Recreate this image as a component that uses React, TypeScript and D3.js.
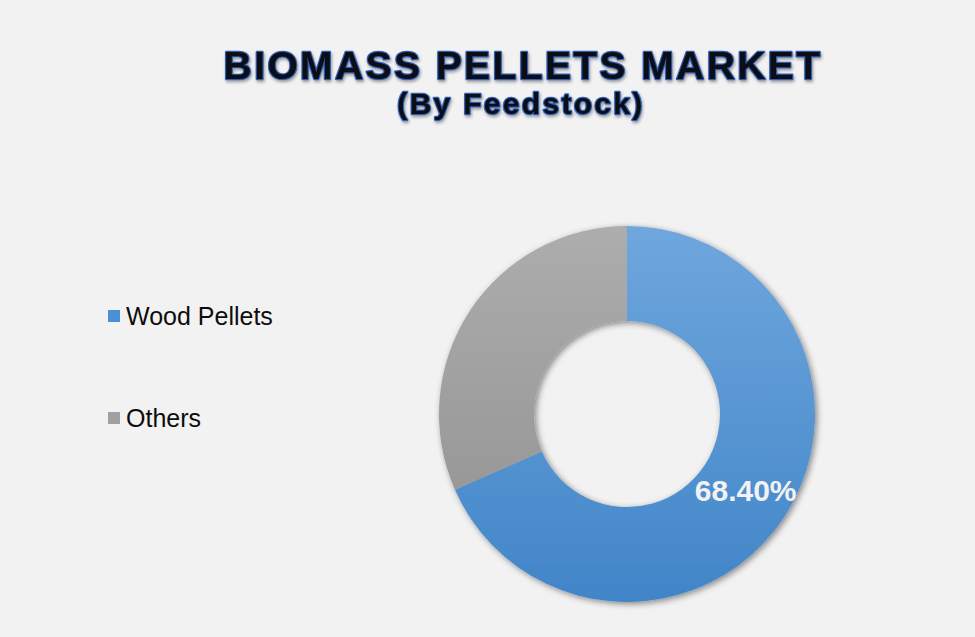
import React, { useMemo } from 'react';
import * as d3 from 'd3';

// Feedstock shares (%)
const categories = ['Wood Pellets', 'Others'];
const shares = [68.4, 31.6];
const labelled = ['68.40%', ''];
const title = 'BIOMASS PELLETS MARKET';
const subtitle = '(By Feedstock)';

const gradients = [
  { id: 'woodGrad', top: '#6fa7dd', bottom: '#4185c8', swatch: '#4a90d6' },
  { id: 'otherGrad', top: '#adadad', bottom: '#8f8f8f', swatch: '#a0a0a0' },
];

const width = 975;
const height = 637;
const cx = 627;
const cy = 414;
const outerR = 188;
const innerR = 93;

export default function App() {
  const slices = useMemo(() => {
    const pie = d3.pie<number>().sort(null).value(d => d);
    return pie(shares);
  }, []);

  const arc = d3.arc<d3.PieArcDatum<number>>()
    .innerRadius(innerR)
    .outerRadius(outerR);

  const legendY = d3.scalePoint<string>()
    .domain(categories)
    .range([316, 418]);

  return (
    <svg
      width={width}
      height={height}
      viewBox={`0 0 ${width} ${height}`}
      style={{ position: 'absolute', left: 0, top: 0, display: 'block' }}
    >
      <defs>
        {gradients.map(g => (
          <linearGradient key={g.id} id={g.id} gradientUnits="userSpaceOnUse"
            x1="0" y1={-outerR} x2="0" y2={outerR}>
            <stop offset="0%" stopColor={g.top} />
            <stop offset="100%" stopColor={g.bottom} />
          </linearGradient>
        ))}
        <filter id="donutShadow" x="-20%" y="-20%" width="140%" height="140%">
          <feDropShadow dx="2" dy="2" stdDeviation="3" floodColor="#000" floodOpacity="0.45" />
        </filter>
        <filter id="titleGlow" x="-10%" y="-40%" width="120%" height="180%">
          <feGaussianBlur in="SourceAlpha" stdDeviation="1.6" result="blur" />
          <feOffset in="blur" dx="1" dy="2" result="off" />
          <feFlood floodColor="#000" floodOpacity="0.35" />
          <feComposite in2="off" operator="in" result="shadow" />
          <feMerge>
            <feMergeNode in="shadow" />
            <feMergeNode in="SourceGraphic" />
          </feMerge>
        </filter>
      </defs>

      <rect width={width} height={height} fill="#f2f2f2" />

      {/* Title */}
      <g filter="url(#titleGlow)" fontFamily="'Liberation Sans', Arial, sans-serif" fontWeight="bold"
        textAnchor="middle" fill="#0b0b16" stroke="#2f5fb3" strokeWidth="2.4" paintOrder="stroke"
        strokeLinejoin="round">
        <text x={523} y={79} fontSize={39} letterSpacing={2.4}>{title}</text>
        <text x={521} y={114} fontSize={30} letterSpacing={2.3}>{subtitle}</text>
      </g>

      {/* Legend */}
      <g fontFamily="'Liberation Sans', Arial, sans-serif" fontSize={25} fill="#0d0d0d">
        {categories.map((c, i) => (
          <g key={c} transform={`translate(0,${legendY(c)})`}>
            <rect x={108} y={-6} width={12} height={12} fill={gradients[i].swatch} />
            <text x={126} y={8.5}>{c}</text>
          </g>
        ))}
      </g>

      {/* Donut */}
      <g transform={`translate(${cx},${cy})`}>
        <g filter="url(#donutShadow)">
          {slices.map((s, i) => (
            <path key={categories[i]} d={arc(s) || ''} fill={`url(#${gradients[i].id})`} />
          ))}
        </g>
        {slices.map((s, i) => {
          if (!labelled[i]) return null;
          const [lx, ly] = arc.centroid(s);
          return (
            <text key={`l-${i}`} x={lx + 1} y={ly + 10} textAnchor="middle"
              fontFamily="'Liberation Sans', Arial, sans-serif" fontWeight="bold"
              fontSize={30} fill="#f2f2f2">
              {labelled[i]}
            </text>
          );
        })}
      </g>
    </svg>
  );
}
